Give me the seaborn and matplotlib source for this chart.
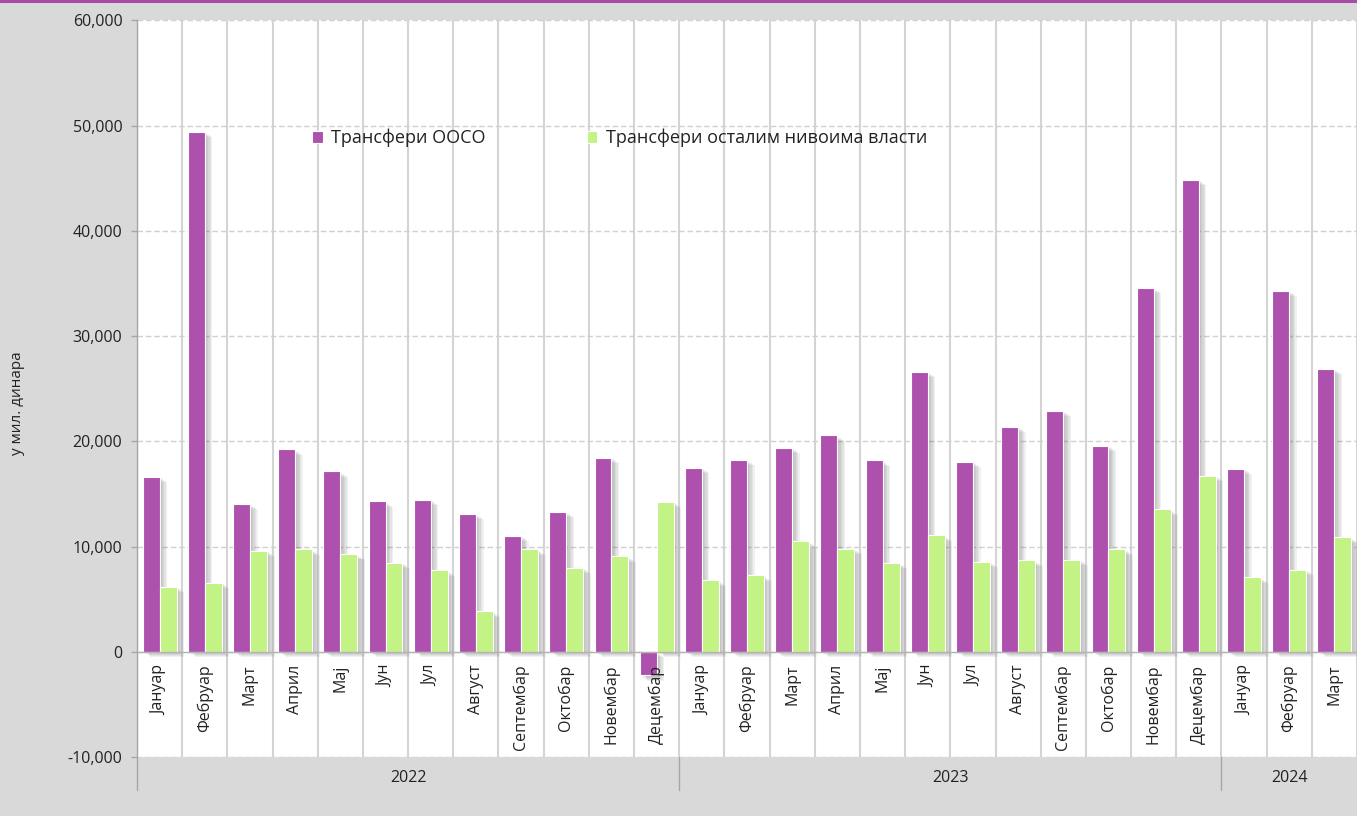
import matplotlib
matplotlib.use("Agg")
import matplotlib.pyplot as plt
import matplotlib.patheffects as pe
from matplotlib.lines import Line2D
import matplotlib.transforms as mtransforms
import seaborn as sns
import numpy as np
import pandas as pd

# подаци (у мил. динара)
months = ["Јануар", "Фебруар", "Март", "Април", "Мај", "Јун", "Јул", "Август",
          "Септембар", "Октобар", "Новембар", "Децембар",
          "Јануар", "Фебруар", "Март", "Април", "Мај", "Јун", "Јул", "Август",
          "Септембар", "Октобар", "Новембар", "Децембар",
          "Јануар", "Фебруар", "Март"]
years = ["2022", "2023", "2024"]
year_counts = [12, 12, 3]
ooso = [16650, 49400, 14100, 19250, 17150, 14300, 14450, 13150, 11050, 13300, 18450, -2200,
        17500, 18250, 19400, 20600, 18200, 26600, 18050, 21400, 22900, 19600, 34600, 44850,
        17400, 34300, 26900]
ostali = [6200, 6600, 9600, 9750, 9300, 8500, 7750, 3850, 9750, 8000, 9100, 14250,
          6800, 7300, 10500, 9800, 8450, 11100, 8550, 8700, 8750, 9750, 13550, 16750,
          7100, 7800, 10900]
series = ["Трансфери ООСО", "Трансфери осталим нивоима власти"]
colors = ["#AE50AE", "#C2F384"]

n = len(months)
pos = np.arange(n)
df = pd.DataFrame({
    "pos": np.concatenate([pos, pos]),
    "value": ooso + ostali,
    "serija": [series[0]] * n + [series[1]] * n,
})

sns.set_style("white")
plt.rcParams["font.family"] = ["Open Sans", "DejaVu Sans"]
text_color = "#222222"

fig = plt.figure(figsize=(13.57, 8.16), dpi=100, facecolor="#d9d9d9")
ax = fig.add_axes([137 / 1357, 1 - 757.3 / 816, 1 - 137 / 1357, (757.3 - 20.4) / 816])
ax.set_facecolor("white")

sns.barplot(data=df, x="pos", y="value", hue="serija", hue_order=series,
            palette=colors, width=0.75, dodge=True, ax=ax,
            edgecolor="white", linewidth=0.8, saturation=1, legend=True)

# замућене сенке испод стубића
shadow = [pe.SimplePatchShadow(offset=(o, -0.7 * o), shadow_rgbFace="#606060", alpha=0.09)
          for o in (1.5, 2.5, 3.5, 4.5, 5.5)]
for bar in ax.patches:
    bar.set_path_effects(shadow + [pe.Normal()])

ax.set_xlim(-0.5, n - 0.5)
ax.set_ylim(-10000, 60000)
ax.set_yticks(np.arange(-10000, 60001, 10000))
ax.set_yticklabels([f"{v:,}" for v in range(-10000, 60001, 10000)])
ax.tick_params(axis="y", direction="out", length=4.5, width=1, color="#a6a6a6",
               labelsize=11.5, labelcolor=text_color, pad=6, left=True)

# мрежа
ax.set_xticks([])
ax.set_xticks(np.arange(-0.5, n, 1), minor=True)
ax.tick_params(axis="x", which="both", length=0, labelbottom=False)
ax.grid(axis="x", which="minor", color="#d4d4d4", linewidth=1.5, linestyle="-")
ax.grid(axis="y", which="major", color="#d0d0d0", linewidth=1, linestyle=(0, (4, 2)))
ax.set_axisbelow(True)
ax.axhline(0, color="#b4b4b4", linewidth=1, zorder=1.5)

for s in ["top", "right", "bottom"]:
    ax.spines[s].set_visible(False)
ax.spines["left"].set_color("#a6a6a6")
ax.spines["left"].set_linewidth(1)

ax.set_xlabel("")
ax.set_ylabel("у мил. динара", fontsize=11, color=text_color)
ax.yaxis.set_label_coords(-112 / 1220, 0.48)

# називи месеци унутар подручја графикона
for p, m in zip(pos, months):
    ax.text(p, -1200, m, rotation=90, ha="center", va="top", fontsize=11.5,
            color=text_color, zorder=5)

# године испод осе
trans = mtransforms.blended_transform_factory(ax.transData, ax.transAxes)
start = 0
edges = [-0.5]
for yr, cnt in zip(years, year_counts):
    center = start + (cnt - 1) / 2
    ax.text(center, -0.028, yr, transform=trans, ha="center", va="center",
            fontsize=11.5, color=text_color)
    start += cnt
    edges.append(start - 0.5)
for e in edges[:-1]:
    ax.add_line(Line2D([e, e], [0, -0.045], transform=trans, color="#a6a6a6",
                       linewidth=1, clip_on=False))

# легенда (без сенке на ознакама)
handles, labels = ax.get_legend_handles_labels()
leg = ax.legend(handles, labels, ncol=2, loc="center left", frameon=False,
                bbox_to_anchor=(312 / 1357, 1 - 138 / 816), bbox_transform=fig.transFigure,
                fontsize=13, handlelength=0.6, handleheight=0.6, handletextpad=0.45,
                columnspacing=5.6, borderpad=0, borderaxespad=0, labelcolor=text_color)
for h in leg.legend_handles:
    h.set_path_effects([])
    h.set_edgecolor("white")

# љубичаста линија на врху
fig.add_artist(Line2D([0, 1], [1 - 1 / 816, 1 - 1 / 816], transform=fig.transFigure,
                      color="#a64ca6", linewidth=2.2))

fig.savefig("out.png", dpi=100, facecolor=fig.get_facecolor())
